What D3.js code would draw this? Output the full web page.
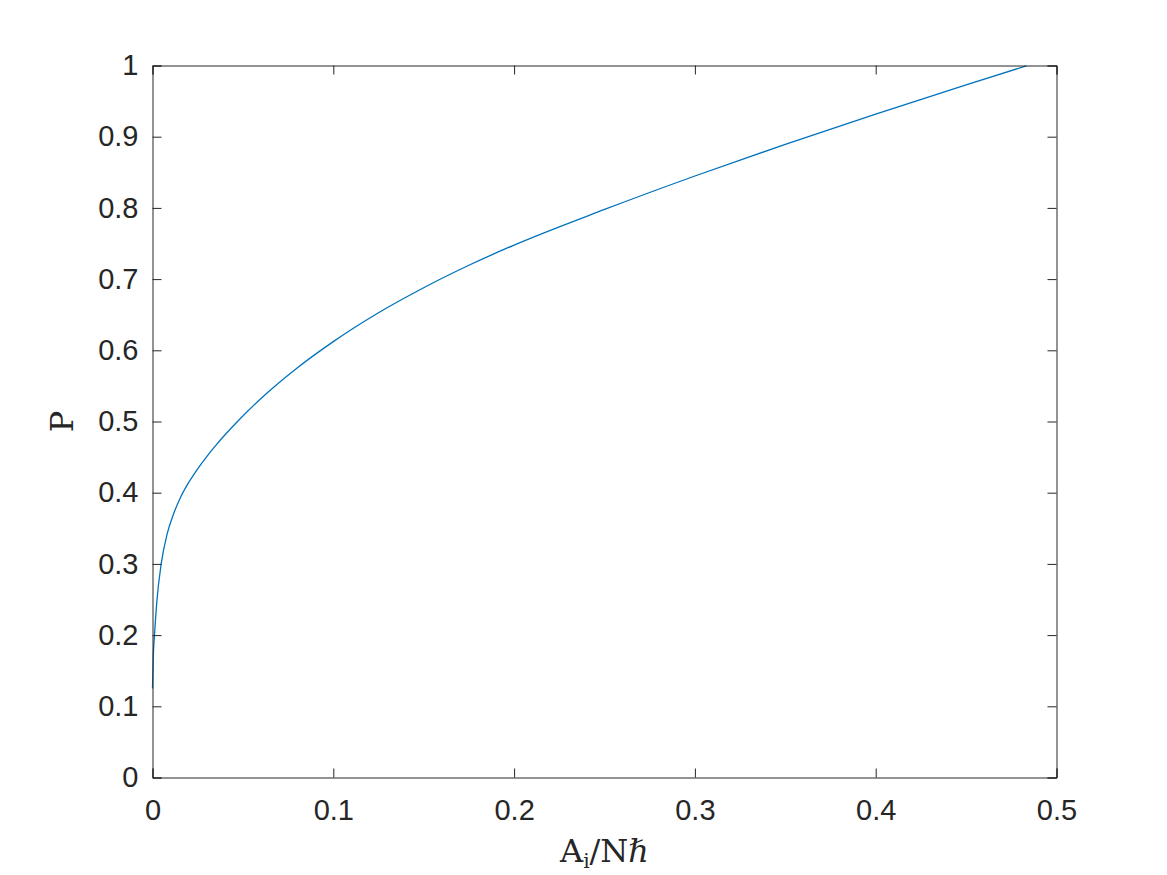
<!DOCTYPE html>
<html>
<head>
<meta charset="utf-8">
<script src="https://cdn.jsdelivr.net/npm/d3@7"></script>
<style>
  body { margin: 0; background: #fff; }
  svg { display: block; }
</style>
</head>
<body>
<div id="container"></div>
<script>
// values
const ratioVals = [0, 0.0004, 0.0011, 0.0024, 0.0048, 0.008, 0.012, 0.016, 0.02, 0.025, 0.03, 0.035,
  0.041, 0.047, 0.06, 0.08, 0.1, 0.125, 0.15, 0.175, 0.2, 0.25, 0.3, 0.35, 0.4, 0.45, 0.4834];
const pVals = [0.125, 0.168, 0.2, 0.247, 0.3, 0.341, 0.3725, 0.396, 0.4143, 0.4336, 0.4508, 0.4665,
  0.4838, 0.5, 0.5323, 0.5752, 0.6122, 0.6527, 0.6879, 0.7194, 0.7478, 0.7978, 0.8448, 0.8893,
  0.9318, 0.9728, 0.9995];
const xTicks = [0, 0.1, 0.2, 0.3, 0.4, 0.5];
const yTicks = [0, 0.1, 0.2, 0.3, 0.4, 0.5, 0.6, 0.7, 0.8, 0.9, 1];

const width = 1167;
const height = 875;
const marginTop = 65.5;
const marginRight = 110.5;
const marginBottom = 97.5;
const marginLeft = 152.5;
const axisColor = "#262626";

const x = d3.scaleLinear()
  .domain([0, 0.5])
  .range([marginLeft, width - marginRight]);

const y = d3.scaleLinear()
  .domain([0, 1])
  .range([height - marginBottom, marginTop]);

const svg = d3.create("svg")
  .attr("width", width)
  .attr("height", height)
  .style("background", "#fff");

const fmt = d => d === 0 ? "0" : d3.format("~g")(d);

// curve
const data = ratioVals.map((v, i) => [v, pVals[i]]);
svg.append("path")
  .datum(data)
  .attr("fill", "none")
  .attr("stroke", "#0072BD")
  .attr("stroke-width", 1.3)
  .attr("d", d3.line().x(d => x(d[0])).y(d => y(d[1])).curve(d3.curveMonotoneX));

// bottom + left axes with labels
const gx = svg.append("g")
  .attr("transform", `translate(0,${height - marginBottom})`)
  .call(d3.axisBottom(x).tickValues(xTicks).tickFormat(fmt).tickSize(-9).tickPadding(22));

const gy = svg.append("g")
  .attr("transform", `translate(${marginLeft},0)`)
  .call(d3.axisLeft(y).tickValues(yTicks).tickFormat(fmt).tickSize(-9).tickPadding(14));

// mirrored ticks top + right
const gt = svg.append("g")
  .attr("transform", `translate(0,${marginTop})`)
  .call(d3.axisTop(x).tickValues(xTicks).tickFormat("").tickSize(-9));

const gr = svg.append("g")
  .attr("transform", `translate(${width - marginRight},0)`)
  .call(d3.axisRight(y).tickValues(yTicks).tickFormat("").tickSize(-9));

[gx, gy, gt, gr].forEach(g => {
  g.select(".domain").attr("stroke", axisColor).attr("stroke-width", 1);
  g.selectAll(".tick line").attr("stroke", axisColor);
  g.selectAll("text")
    .attr("fill", axisColor)
    .style("font-family", "'Liberation Sans', Arial, sans-serif")
    .style("font-size", "29px");
});

// axis titles
const xTitle = svg.append("text")
  .attr("x", (marginLeft + width - marginRight) / 2)
  .attr("y", 862)
  .attr("text-anchor", "middle")
  .attr("fill", axisColor)
  .style("font-family", "'DejaVu Serif', 'Liberation Serif', serif")
  .style("font-size", "32px");
xTitle.append("tspan").text("A");
xTitle.append("tspan").attr("dy", 6).style("font-size", "20px").text("i");
xTitle.append("tspan").attr("dy", -6).text("/N");
xTitle.append("tspan").style("font-style", "italic").text("ℏ");

svg.append("text")
  .attr("transform", `translate(73,${(marginTop + height - marginBottom) / 2}) rotate(-90)`)
  .attr("text-anchor", "middle")
  .attr("fill", axisColor)
  .style("font-family", "'DejaVu Serif', 'Liberation Serif', serif")
  .style("font-size", "32px")
  .text("P");

container.append(svg.node());
</script>
</body>
</html>
